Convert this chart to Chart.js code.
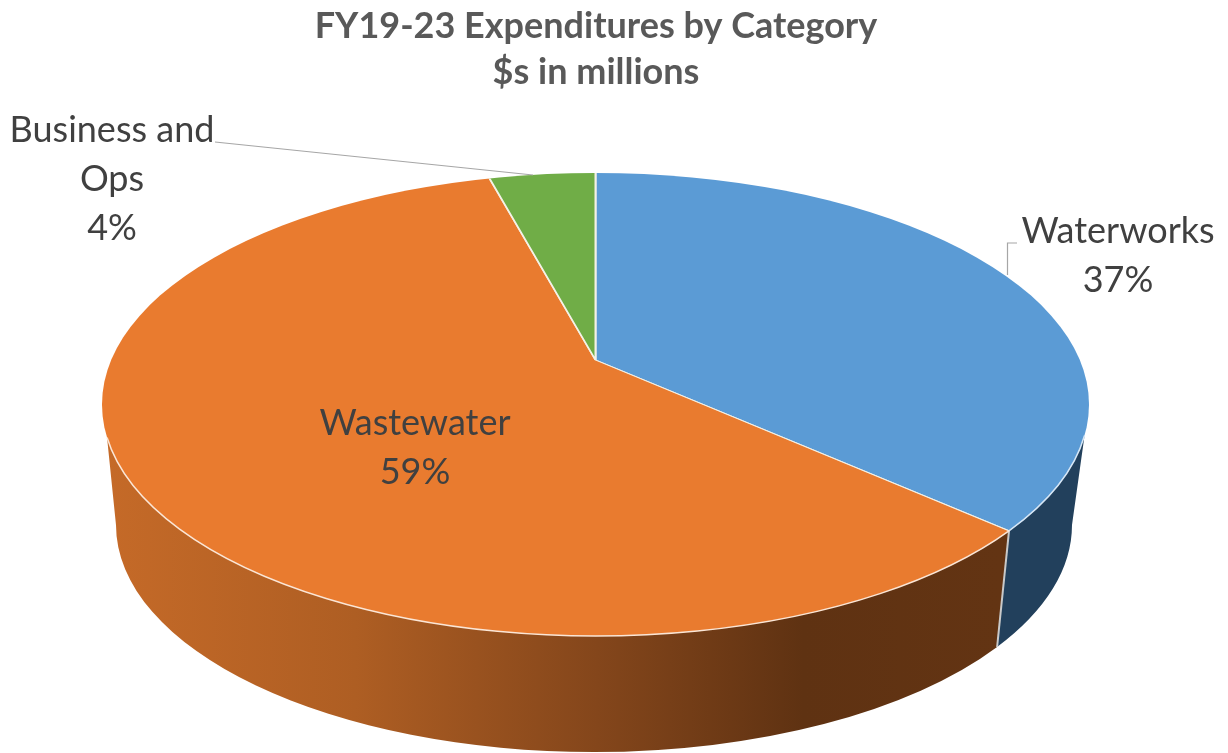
<!DOCTYPE html>
<html>
<head>
<meta charset="utf-8">
<style>html,body{margin:0;padding:0;background:#fff}canvas{display:block}</style>
<script src="https://cdn.jsdelivr.net/npm/chart.js@4/dist/chart.umd.min.js"></script>
</head>
<body>
<canvas id="c" width="1228" height="753"></canvas>
<script>
const titleLines = ['FY19-23 Expenditures by Category', '$s in millions'];
const categories = ['Waterworks', 'Wastewater', 'Business and Ops'];
const values = [37, 59, 4];
const percentLabels = ['37%', '59%', '4%'];
const labelLines = [['Waterworks'], ['Wastewater'], ['Business and', 'Ops']];
const topColors = ['#5B9BD5', '#E97B2F', '#70AD47'];

// Projection of the pie
const TOP = {cx: 595.5, cy: 404.5, rx: 493.5, ry: 231.5};
const LOW = {cx: 594, cy: 525, rx: 478, ry: 227};
const APEX = {x: 595.5, y: 360};
const K = 0.44;
const FONT = 'Lato, "Open Sans", sans-serif';
const labelPos = [{x: 1118, y: 231}, {x: 415, y: 423}, {x: 112, y: 130}];
const LINE_H = 49;

function splitParam(a) {
  const dx = Math.cos(a), dy = K * Math.sin(a);
  const ox = (APEX.x - TOP.cx) / TOP.rx, oy = (APEX.y - TOP.cy) / TOP.ry;
  const ux = dx / TOP.rx, uy = dy / TOP.ry;
  const A = ux * ux + uy * uy, B = 2 * (ox * ux + oy * uy), C = ox * ox + oy * oy - 1;
  const s = (-B + Math.sqrt(B * B - 4 * A * C)) / (2 * A);
  return Math.atan2(oy + s * uy, ox + s * ux);
}
const pt = (e, t) => ({x: e.cx + e.rx * Math.cos(t), y: e.cy + e.ry * Math.sin(t)});

const pie3d = {
  id: 'pie3d',
  afterLayout(chart) {
    chart.titleBlock.left -= 18;
    chart.titleBlock.right -= 18;
  },
  beforeDatasetsDraw(chart) {
    const ctx = chart.ctx;
    const arcs = chart.getDatasetMeta(0).data;
    const tSplit = splitParam(arcs[0].endAngle);
    const tLow = tSplit - 0.01;
    const tR = Math.asin(31 / TOP.ry), tL = Math.PI - Math.asin(33 / TOP.ry);

    // side wall of the large slice
    const g = ctx.createLinearGradient(105, 0, 1000, 0);
    g.addColorStop(0, '#C56A28');
    g.addColorStop(0.28, '#AE5E23');
    g.addColorStop(0.55, '#84461B');
    g.addColorStop(0.78, '#5F3212');
    g.addColorStop(1, '#633413');
    ctx.save();
    ctx.fillStyle = g;
    ctx.beginPath();
    const a = pt(TOP, tL);
    ctx.moveTo(a.x, a.y);
    ctx.lineTo(LOW.cx - LOW.rx, LOW.cy);
    ctx.ellipse(LOW.cx, LOW.cy, LOW.rx, LOW.ry, 0, Math.PI, tLow, true);
    const s = pt(TOP, tSplit);
    ctx.lineTo(s.x, s.y);
    ctx.closePath();
    ctx.fill();

    // side wall of the right slice
    ctx.fillStyle = '#22405C';
    ctx.beginPath();
    ctx.moveTo(s.x, s.y);
    const lowS = pt(LOW, tLow);
    ctx.lineTo(lowS.x, lowS.y);
    ctx.ellipse(LOW.cx, LOW.cy, LOW.rx, LOW.ry, 0, tLow, 0, true);
    const r = pt(TOP, tR);
    ctx.lineTo(r.x, r.y);
    ctx.ellipse(TOP.cx, TOP.cy, TOP.rx, TOP.ry, 0, tR, tSplit, false);
    ctx.closePath();
    ctx.fill();

    // light seam between walls
    ctx.strokeStyle = '#C9C9C9';
    ctx.lineWidth = 2;
    ctx.beginPath();
    ctx.moveTo(s.x, s.y);
    ctx.lineTo(lowS.x, lowS.y);
    ctx.stroke();
    ctx.restore();

    // top face: the library's arcs, squashed and clipped to the rim
    ctx.save();
    ctx.beginPath();
    ctx.ellipse(TOP.cx, TOP.cy, TOP.rx, TOP.ry, 0, 0, Math.PI * 2);
    ctx.clip();
    ctx.translate(APEX.x, APEX.y);
    ctx.scale(1, K);
    ctx.translate(-arcs[0].x, -arcs[0].y);
  },
  afterDatasetsDraw(chart) {
    const ctx = chart.ctx;
    ctx.restore();
    const arcs = chart.getDatasetMeta(0).data;
    const tSplit = splitParam(arcs[0].endAngle);
    const tR = Math.asin(31 / TOP.ry), tL = Math.PI - Math.asin(33 / TOP.ry);
    ctx.save();
    ctx.lineWidth = 1.5;
    ctx.strokeStyle = '#FBE6D6';
    ctx.beginPath();
    ctx.ellipse(TOP.cx, TOP.cy, TOP.rx, TOP.ry, 0, tSplit, tL, false);
    ctx.stroke();
    ctx.strokeStyle = '#D6E6F5';
    ctx.beginPath();
    ctx.ellipse(TOP.cx, TOP.cy, TOP.rx, TOP.ry, 0, tR, tSplit, false);
    ctx.stroke();

    // leader lines
    ctx.strokeStyle = '#A6A6A6';
    ctx.lineWidth = 1.2;
    ctx.beginPath();
    ctx.moveTo(215, 142);
    ctx.lineTo(533, 175);
    ctx.moveTo(1017, 243);
    ctx.lineTo(1007.5, 243);
    ctx.lineTo(1007.5, 275);
    ctx.stroke();

    // data labels
    ctx.fillStyle = '#404040';
    ctx.textAlign = 'center';
    ctx.textBaseline = 'middle';
    ctx.font = '36px ' + FONT;
    categories.forEach((_, i) => {
      const lines = [...labelLines[i], percentLabels[i]];
      lines.forEach((l, j) => ctx.fillText(l, labelPos[i].x, labelPos[i].y + j * LINE_H));
    });
    ctx.restore();
  }
};

new Chart(document.getElementById('c'), {
  type: 'pie',
  data: {
    labels: categories,
    datasets: [{
      data: values,
      backgroundColor: topColors,
      borderColor: '#F4F1E6',
      borderWidth: 2,
      clip: false
    }]
  },
  options: {
    responsive: false,
    animation: false,
    radius: 800,
    layout: {padding: 0},
    plugins: {
      legend: {display: false},
      tooltip: {enabled: false},
      title: {
        display: true,
        text: titleLines,
        color: '#595959',
        font: {family: FONT, size: 36, weight: 'bold', lineHeight: 1.28},
        padding: {top: 3, bottom: 0}
      }
    }
  },
  plugins: [pie3d]
});
</script>
</body>
</html>
